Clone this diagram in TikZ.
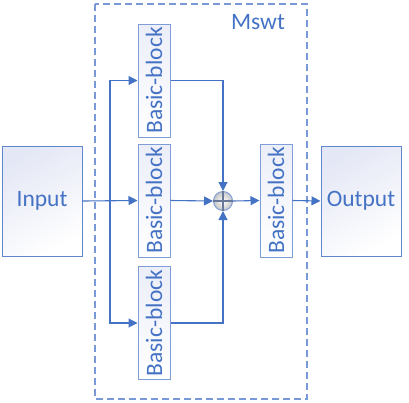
\documentclass[tikz,border=0pt]{standalone}
\usepackage{fontspec}
\setmainfont{Carlito}
\usetikzlibrary{arrows.meta}
\definecolor{mblue}{HTML}{4472C4}
\definecolor{lblue}{HTML}{7F9DD8}
\definecolor{lav}{HTML}{E4E7F5}
\begin{document}
\begin{tikzpicture}[x=1pt,y=-1pt,
  txt/.style={text=mblue,font=\fontsize{23.5}{27}\selectfont},
  bigbox/.style={draw=mblue!85,line width=1pt,minimum width=80pt,minimum height=110pt,top color=lav,bottom color=white,shading angle=30,inner sep=0pt,txt},
  blockbox/.style={draw=lblue,line width=1pt,minimum width=113pt,minimum height=32pt,top color=lav!70,bottom color=white,inner sep=0pt,rotate=90,txt},
  conn/.style={draw=mblue,line width=1.1pt},
  arr/.style={conn,-{Triangle[length=9pt,width=9pt]}}]
\useasboundingbox (0,0) rectangle (409,402);
\draw[lblue!90!mblue,line width=1.2pt,dash pattern=on 7pt off 4pt] (95,4) rectangle (307,399);
\node[txt] (title) at (258,22) {Mswt};
\node[bigbox] (in) at (42,201) {Input};
\node[bigbox] (out) at (361,201) {Output};
\node[blockbox] (b1) at (154,80.5) {Basic-block};
\node[blockbox] (b2) at (154,200.5) {Basic-block};
\node[blockbox] (b3) at (154,323) {Basic-block};
\node[blockbox] (b4) at (276,200.5) {Basic-block};
\node[circle,draw=lblue,line width=1pt,minimum size=19pt,inner sep=0pt,inner color=white,outer color=gray!45] (sum) at (223,201) {};
\draw[mblue!55!black!70,line width=2pt] (sum.north) -- (sum.south) (sum.west) -- (sum.east);
\coordinate (br) at (110,201);
\draw[arr] (in.east) -- (b2.north);
\draw[arr] (br) |- (b1.north);
\draw[arr] (br) |- (b3.north);
\draw[arr] (b1.south) -| (sum.north);
\draw[arr] (b3.south) -| (sum.south);
\draw[arr] (b2.south) -- (sum.west);
\draw[arr] (sum.east) -- (b4.north);
\draw[arr] (b4.south) -- (out.west);
\end{tikzpicture}
\end{document}
